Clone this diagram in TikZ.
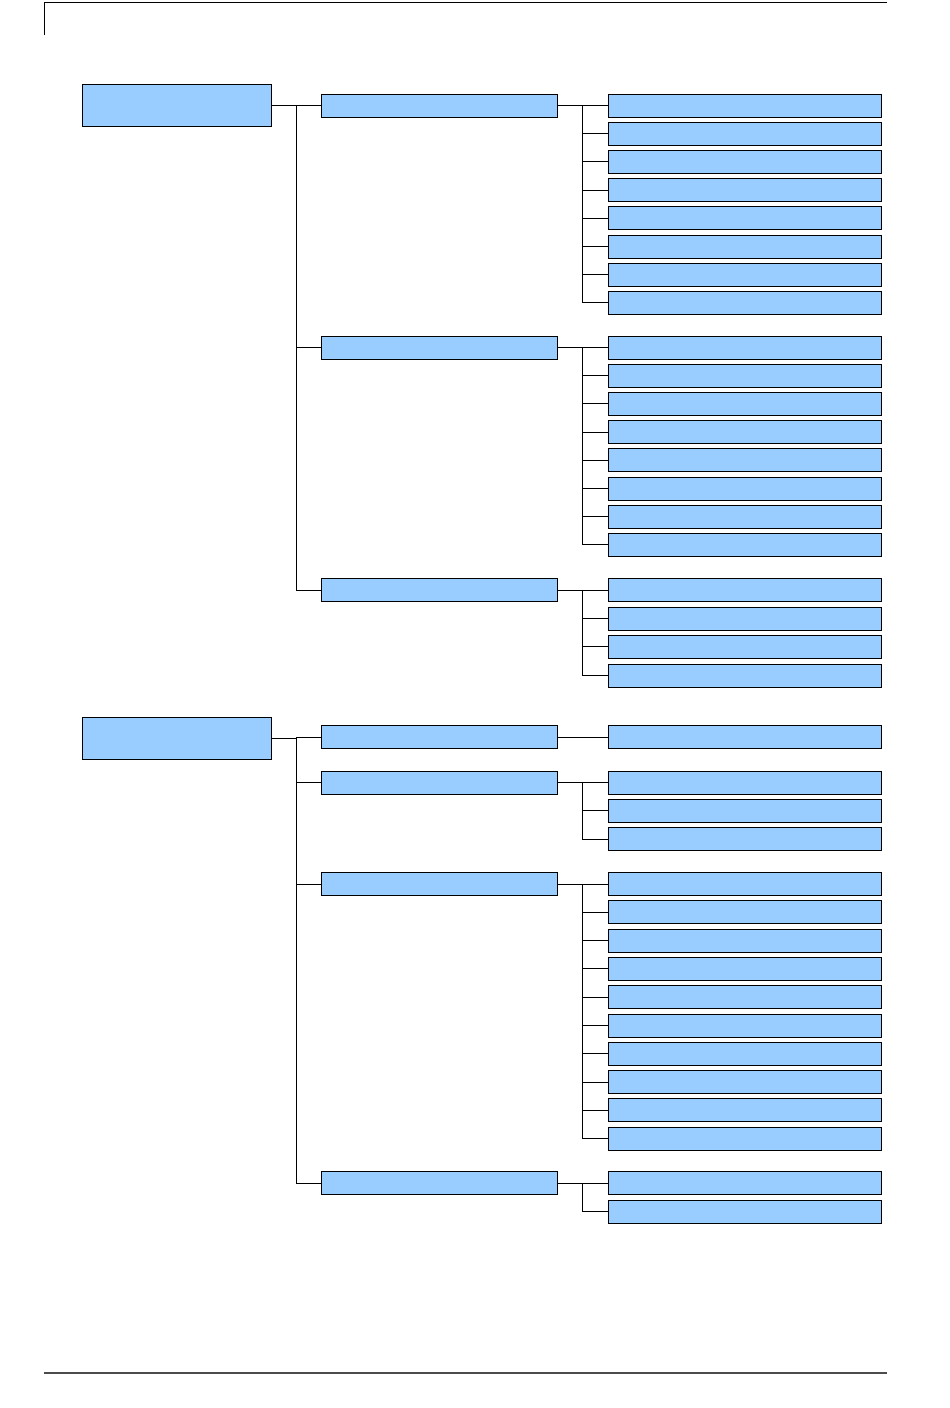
\documentclass[tikz,border=0pt]{standalone}
\definecolor{boxblue}{HTML}{99CCFF}
\begin{document}
\begin{tikzpicture}[x=1pt, y=-1pt,
    box/.style={draw, fill=boxblue, line width=1pt, inner sep=0pt},
    top/.style={box, minimum width=189pt, minimum height=42pt},
    mid/.style={box, minimum width=236pt, minimum height=23pt},
    leaf/.style={box, minimum width=273pt, minimum height=23pt},
    link/.style={line width=1pt}]
            \useasboundingbox (0,0) rectangle (950,1408);

            % Page rules
            \draw[line width=1pt] (44,35) -- (44,2) -- (887,2);
            \draw[line width=1.6pt, black!70] (44,1373) -- (887,1373);

            % First tree
            \node[top] (R1) at (176.5,105) {};
            \node[mid] (A) at (439,105.5) {};
            \node[mid] (B) at (439,347.5) {};
            \node[mid] (C) at (439,590.3) {};

            \node[leaf] (A1) at (744.5,105.5) {};
            \node[leaf] (A2) at (744.5,133.7) {};
            \node[leaf] (A3) at (744.5,161.9) {};
            \node[leaf] (A4) at (744.5,190.1) {};
            \node[leaf] (A5) at (744.5,218.3) {};
            \node[leaf] (A6) at (744.5,246.5) {};
            \node[leaf] (A7) at (744.5,274.7) {};
            \node[leaf] (A8) at (744.5,302.9) {};

            \node[leaf] (B1) at (744.5,347.5) {};
            \node[leaf] (B2) at (744.5,375.7) {};
            \node[leaf] (B3) at (744.5,403.9) {};
            \node[leaf] (B4) at (744.5,432.1) {};
            \node[leaf] (B5) at (744.5,460.3) {};
            \node[leaf] (B6) at (744.5,488.5) {};
            \node[leaf] (B7) at (744.5,516.7) {};
            \node[leaf] (B8) at (744.5,544.9) {};

            \node[leaf] (C1) at (744.5,590.3) {};
            \node[leaf] (C2) at (744.5,618.6) {};
            \node[leaf] (C3) at (744.5,646.9) {};
            \node[leaf] (C4) at (744.5,675.5) {};

            % Second tree
            \node[top] (R2) at (176.5,738) {};
            \node[mid] (D) at (439,737.3) {};
            \node[mid] (E) at (439,782.5) {};
            \node[mid] (F) at (439,884) {};
            \node[mid] (G) at (439,1183) {};

            \node[leaf] (D1) at (744.5,737.3) {};

            \node[leaf] (E1) at (744.5,782.5) {};
            \node[leaf] (E2) at (744.5,810.8) {};
            \node[leaf] (E3) at (744.5,839) {};

            \node[leaf] (F1) at (744.5,884) {};
            \node[leaf] (F2) at (744.5,912.3) {};
            \node[leaf] (F3) at (744.5,940.6) {};
            \node[leaf] (F4) at (744.5,968.9) {};
            \node[leaf] (F5) at (744.5,997.2) {};
            \node[leaf] (F6) at (744.5,1025.5) {};
            \node[leaf] (F7) at (744.5,1053.8) {};
            \node[leaf] (F8) at (744.5,1082.1) {};
            \node[leaf] (F9) at (744.5,1110.4) {};
            \node[leaf] (F10) at (744.5,1138.7) {};

            \node[leaf] (G1) at (744.5,1183) {};
            \node[leaf] (G2) at (744.5,1211.8) {};

            % Links from the roots
            \draw[link] (R1.east) -- ++(25,0) |- (A.west);
            \draw[link] (R1.east) -- ++(25,0) |- (B.west);
            \draw[link] (R1.east) -- ++(25,0) |- (C.west);

            \draw[link] (R2.east) -- ++(25,0) |- (D.west);
            \draw[link] (R2.east) -- ++(25,0) |- (E.west);
            \draw[link] (R2.east) -- ++(25,0) |- (F.west);
            \draw[link] (R2.east) -- ++(25,0) |- (G.west);

            % Links to the leaves
            \draw[link] (A.east) -- ++(25,0) |- (A1.west);
            \draw[link] (A.east) -- ++(25,0) |- (A2.west);
            \draw[link] (A.east) -- ++(25,0) |- (A3.west);
            \draw[link] (A.east) -- ++(25,0) |- (A4.west);
            \draw[link] (A.east) -- ++(25,0) |- (A5.west);
            \draw[link] (A.east) -- ++(25,0) |- (A6.west);
            \draw[link] (A.east) -- ++(25,0) |- (A7.west);
            \draw[link] (A.east) -- ++(25,0) |- (A8.west);

            \draw[link] (B.east) -- ++(25,0) |- (B1.west);
            \draw[link] (B.east) -- ++(25,0) |- (B2.west);
            \draw[link] (B.east) -- ++(25,0) |- (B3.west);
            \draw[link] (B.east) -- ++(25,0) |- (B4.west);
            \draw[link] (B.east) -- ++(25,0) |- (B5.west);
            \draw[link] (B.east) -- ++(25,0) |- (B6.west);
            \draw[link] (B.east) -- ++(25,0) |- (B7.west);
            \draw[link] (B.east) -- ++(25,0) |- (B8.west);

            \draw[link] (C.east) -- ++(25,0) |- (C1.west);
            \draw[link] (C.east) -- ++(25,0) |- (C2.west);
            \draw[link] (C.east) -- ++(25,0) |- (C3.west);
            \draw[link] (C.east) -- ++(25,0) |- (C4.west);

            \draw[link] (D.east) -- (D1.west);

            \draw[link] (E.east) -- ++(25,0) |- (E1.west);
            \draw[link] (E.east) -- ++(25,0) |- (E2.west);
            \draw[link] (E.east) -- ++(25,0) |- (E3.west);

            \draw[link] (F.east) -- ++(25,0) |- (F1.west);
            \draw[link] (F.east) -- ++(25,0) |- (F2.west);
            \draw[link] (F.east) -- ++(25,0) |- (F3.west);
            \draw[link] (F.east) -- ++(25,0) |- (F4.west);
            \draw[link] (F.east) -- ++(25,0) |- (F5.west);
            \draw[link] (F.east) -- ++(25,0) |- (F6.west);
            \draw[link] (F.east) -- ++(25,0) |- (F7.west);
            \draw[link] (F.east) -- ++(25,0) |- (F8.west);
            \draw[link] (F.east) -- ++(25,0) |- (F9.west);
            \draw[link] (F.east) -- ++(25,0) |- (F10.west);

            \draw[link] (G.east) -- ++(25,0) |- (G1.west);
            \draw[link] (G.east) -- ++(25,0) |- (G2.west);
        \end{tikzpicture}
\end{document}
